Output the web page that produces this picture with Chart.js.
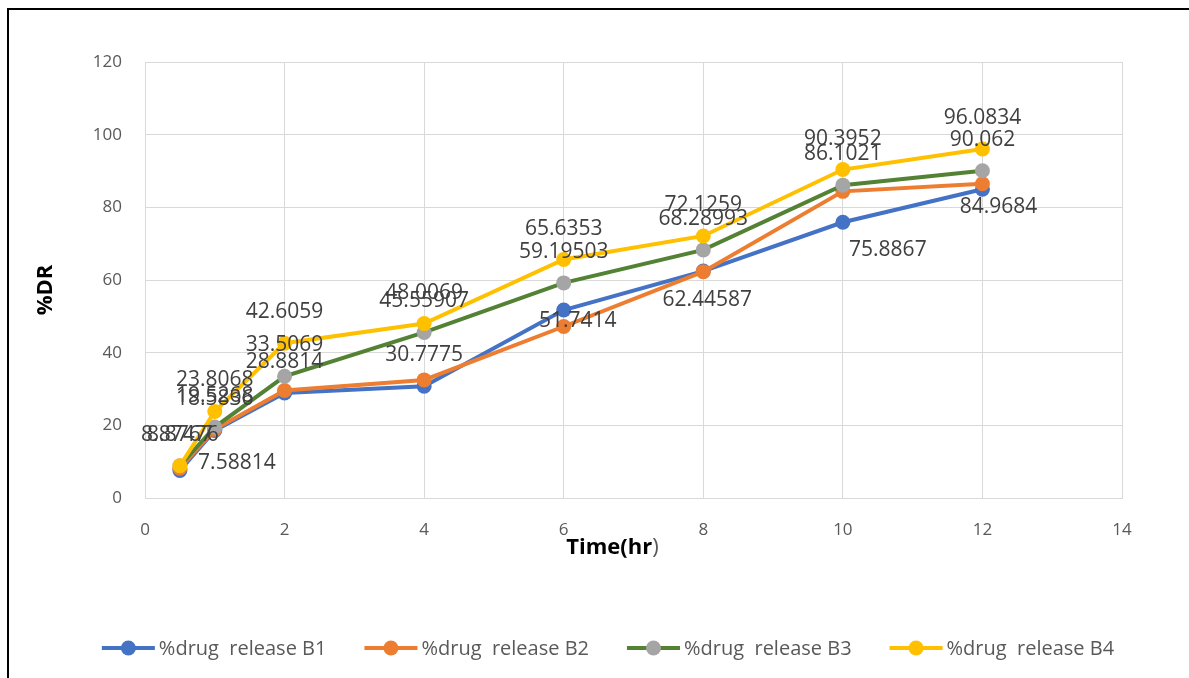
<!DOCTYPE html>
<html>
<head>
<meta charset="utf-8">
<script src="https://cdn.jsdelivr.net/npm/chart.js@4/dist/chart.umd.min.js"></script>
<style>
  html, body { margin: 0; padding: 0; background: #fff; }
  #frame {
    position: absolute; left: 7px; top: 8px;
    width: 1182px; height: 670px;
    border-left: 2px solid #000; border-top: 2px solid #000;
    background: #fff;
  }
  #chart { display: block; }
</style>
</head>
<body>
<div id="frame"><canvas id="chart" width="1180" height="668"></canvas></div>
<script>
// Sampling times (hr)
const times = [0.5, 1, 2, 4, 6, 8, 10, 12];

// Cumulative % drug release per batch
const releaseB1 = [7.58814, 18.5836, 28.8814, 30.7775, 51.7414, 62.44587, 75.8867, 84.9684];
const releaseB2 = [8.2, 18.9, 29.6, 32.5, 47.2, 62.3, 84.4, 86.5];
const releaseB3 = [8.8767, 19.5268, 33.5069, 45.55907, 59.19503, 68.28993, 86.1021, 90.062];
const releaseB4 = [8.87476, 23.8068, 42.6059, 48.0069, 65.6353, 72.1259, 90.3952, 96.0834];

const seriesNames = ['%drug  release B1', '%drug  release B2', '%drug  release B3', '%drug  release B4'];

// Axis ticks
const xTicks = [0, 2, 4, 6, 8, 10, 12, 14];
const yTicks = [0, 20, 40, 60, 80, 100, 120];

// Value label placement per series (pixel offset from the point); null = no labels
const ABOVE = [0, -31];
const labelOffsets = [
  [[57, -7], ABOVE, ABOVE, ABOVE, [14, 11], [4, 29], [45, 28], [16, 18]],
  null,
  [ABOVE, ABOVE, ABOVE, ABOVE, ABOVE, ABOVE, ABOVE, ABOVE],
  [ABOVE, ABOVE, ABOVE, ABOVE, ABOVE, ABOVE, ABOVE, ABOVE]
];

const lineColors = ['#4472C4', '#ED7D31', '#548235', '#FFC000'];
const markerColors = ['#4472C4', '#ED7D31', '#A5A5A5', '#FFC000'];

const seriesValues = [releaseB1, releaseB2, releaseB3, releaseB4];

const datasets = seriesValues.map((vals, i) => ({
  label: seriesNames[i],
  data: times.map((t, j) => ({ x: t, y: vals[j] })),
  borderColor: lineColors[i],
  backgroundColor: markerColors[i],
  pointBackgroundColor: markerColors[i],
  pointBorderColor: markerColors[i],
  borderWidth: 4,
  pointRadius: 7.5,
  pointBorderWidth: 0,
  tension: 0,
  order: 3 - i
}));

const valueLabels = {
  id: 'valueLabels',
  afterDatasetsDraw(chart) {
    const ctx = chart.ctx;
    ctx.save();
    ctx.font = '21px "Open Sans"';
    ctx.fillStyle = '#404040';
    ctx.textAlign = 'center';
    ctx.textBaseline = 'middle';
    seriesValues.forEach((vals, i) => {
      const offs = labelOffsets[i];
      if (!offs) return;
      const meta = chart.getDatasetMeta(i);
      vals.forEach((v, j) => {
        const pt = meta.data[j];
        const o = offs[j];
        ctx.fillText(String(v), pt.x + o[0], pt.y + o[1]);
      });
    });
    ctx.restore();
  }
};

const decorations = {
  id: 'decorations',
  afterDraw(chart) {
    const ctx = chart.ctx;
    const area = chart.chartArea;
    ctx.save();
    // y axis title
    ctx.font = 'bold 22px "Open Sans"';
    ctx.fillStyle = '#000';
    ctx.textAlign = 'center';
    ctx.textBaseline = 'middle';
    ctx.translate(37, 280);
    ctx.rotate(-Math.PI / 2);
    ctx.fillText('%DR', 0, 0);
    ctx.restore();

    // x axis title: "Time(hr" bold, closing bracket regular
    ctx.save();
    ctx.textBaseline = 'middle';
    ctx.textAlign = 'left';
    const boldPart = 'Time(hr', endPart = ')';
    ctx.font = 'bold 22px "Open Sans"';
    const wb = ctx.measureText(boldPart).width;
    ctx.font = '22px "Open Sans"';
    const we = ctx.measureText(endPart).width;
    const cx = area.left + area.width * 0.4785;
    let x0 = cx - (wb + we) / 2;
    const ty = area.bottom + 50;
    ctx.font = 'bold 22px "Open Sans"';
    ctx.fillStyle = '#000';
    ctx.fillText(boldPart, x0, ty);
    ctx.font = '22px "Open Sans"';
    ctx.fillStyle = '#595959';
    ctx.fillText(endPart, x0 + wb, ty);
    ctx.restore();

    // legend: line + marker swatch followed by series name
    ctx.save();
    ctx.font = '20px "Open Sans"';
    ctx.textBaseline = 'middle';
    ctx.textAlign = 'left';
    const lineLen = 53, gapText = 4, gapItem = 38;
    const widths = seriesNames.map(n => lineLen + gapText + ctx.measureText(n).width);
    const total = widths.reduce((a, b) => a + b, 0) + gapItem * (seriesNames.length - 1);
    let x = chart.width / 2 + 9 - total / 2;
    const ly = 638;
    seriesNames.forEach((n, i) => {
      ctx.strokeStyle = lineColors[i];
      ctx.lineWidth = 4;
      ctx.beginPath();
      ctx.moveTo(x, ly);
      ctx.lineTo(x + lineLen, ly);
      ctx.stroke();
      ctx.fillStyle = markerColors[i];
      ctx.beginPath();
      ctx.arc(x + lineLen / 2, ly, 7.5, 0, Math.PI * 2);
      ctx.fill();
      ctx.fillStyle = '#595959';
      ctx.fillText(n, x + lineLen + gapText, ly + 1);
      x += widths[i] + gapItem;
    });
    ctx.restore();
  }
};

new Chart(document.getElementById('chart'), {
  type: 'line',
  data: { datasets },
  options: {
    responsive: false,
    animation: false,
    devicePixelRatio: 1,
    layout: { padding: { top: 52, right: 67, left: 0, bottom: 0 } },
    plugins: {
      legend: { display: false },
      tooltip: { enabled: false }
    },
    scales: {
      x: {
        type: 'linear',
        min: xTicks[0],
        max: xTicks[xTicks.length - 1],
        afterBuildTicks(scale) { scale.ticks = xTicks.map(v => ({ value: v })); },
        afterFit(scale) { scale.height = 180; },
        grid: { color: '#D9D9D9', lineWidth: 1, drawTicks: false },
        border: { color: '#D9D9D9', width: 1 },
        ticks: { color: '#595959', font: { family: 'Open Sans', size: 17 }, padding: 22, maxRotation: 0 }
      },
      y: {
        type: 'linear',
        min: yTicks[0],
        max: yTicks[yTicks.length - 1],
        afterBuildTicks(scale) { scale.ticks = yTicks.map(v => ({ value: v })); },
        afterFit(scale) { scale.width = 136; },
        grid: { color: '#D9D9D9', lineWidth: 1, drawTicks: false },
        border: { color: '#D9D9D9', width: 1 },
        ticks: { color: '#595959', font: { family: 'Open Sans', size: 17 }, padding: 23 }
      }
    }
  },
  plugins: [valueLabels, decorations]
});
</script>
</body>
</html>
